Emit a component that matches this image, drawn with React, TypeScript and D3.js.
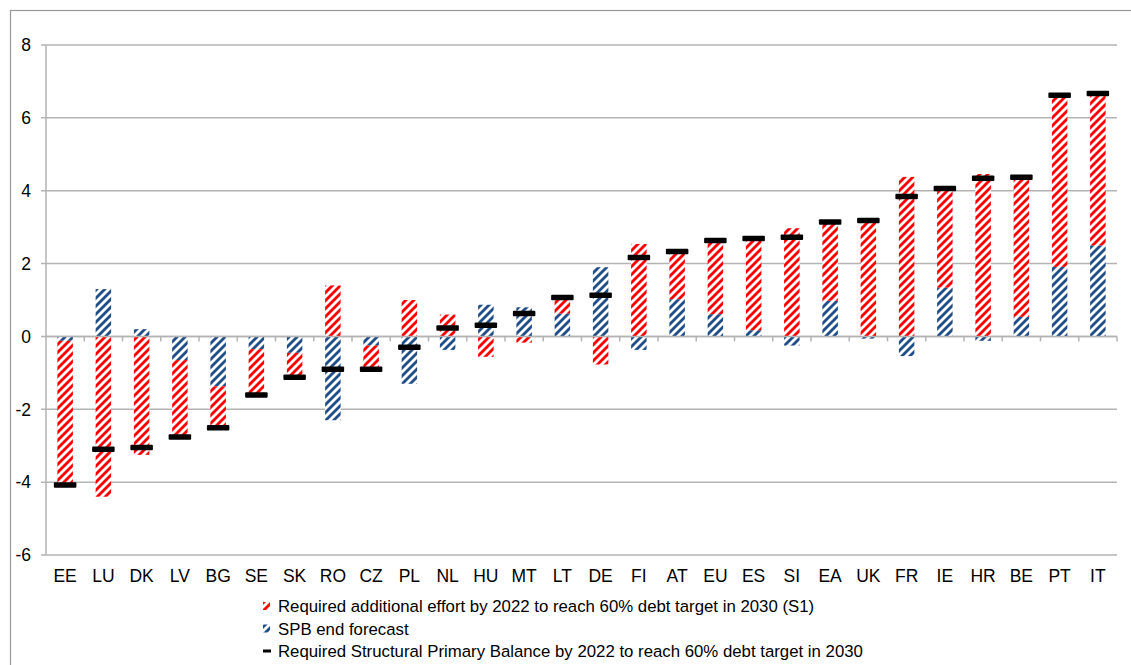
import React from "react";
import * as d3 from "d3";

const categories = ["EE","LU","DK","LV","BG","SE","SK","RO","CZ","PL","NL","HU","MT","LT","DE","FI","AT","EU","ES","SI","EA","UK","FR","IE","HR","BE","PT","IT"];
const spbEndForecast = [-0.12,1.3,0.2,-0.65,-1.37,-0.35,-0.45,-2.3,-0.25,-1.3,-0.37,0.87,0.8,0.63,1.9,-0.37,1.02,0.61,0.17,-0.25,0.98,-0.06,-0.54,1.34,-0.12,0.54,1.91,2.5];
const requiredEffort = [-3.96,-4.4,-3.25,-2.11,-1.14,-1.26,-0.67,1.4,-0.65,1.0,0.6,-0.56,-0.17,0.44,-0.77,2.54,1.31,2.02,2.52,2.97,2.16,3.24,4.38,2.72,4.46,3.83,4.71,4.17];
const requiredSPB = [-4.08,-3.1,-3.05,-2.76,-2.51,-1.61,-1.12,-0.9,-0.9,-0.3,0.23,0.31,0.63,1.07,1.13,2.17,2.33,2.63,2.69,2.72,3.14,3.18,3.84,4.06,4.34,4.37,6.62,6.67];
const yTicks = [-6,-4,-2,0,2,4,6,8];
const legendLabels = [
  "Required additional effort by 2022 to reach 60% debt target in 2030 (S1)",
  "SPB end forecast",
  "Required Structural Primary Balance by 2022 to reach 60% debt target in 2030",
];

const W = 1131, H = 665;
const FONT = "'Liberation Sans', Arial, sans-serif";
const RED = "#ff0000";
const BLUE = "#1f4e8a";
const GRID = "#b3b3b3";

export default function App() {
  const x = d3.scaleBand<string>().domain(categories).range([46, 1117]).padding(0);
  const y = d3.scaleLinear().domain([-6, 8]).range([555, 45]);

  const rows = categories.map((c, i) => ({ cat: c, spb: spbEndForecast[i], effort: requiredEffort[i] }));
  const stacked = d3.stack<any>().keys(["spb", "effort"]).offset(d3.stackOffsetDiverging)(rows);
  const fills: Record<string, string> = { spb: "url(#patBlue)", effort: "url(#patRed)" };

  const bw = x.bandwidth();
  const barW = 15.5;
  const markW = 22.5;
  const markH = 5.5;

  const stripe = "M0,0 L4,0 L0,4 Z M0,8 L8,0 L8,4 L4,8 Z";

  return (
    <svg width={W} height={H} style={{ position: "absolute", left: 0, top: 0, background: "#fff" }} fontFamily={FONT}>
      <defs>
        <pattern id="patRed" patternUnits="userSpaceOnUse" width={8} height={8}>
          <rect width={8} height={8} fill="#fff" />
          <path d={stripe} fill={RED} />
        </pattern>
        <pattern id="patBlue" patternUnits="userSpaceOnUse" width={8} height={8}>
          <rect width={8} height={8} fill="#fff" />
          <path d={stripe} fill={BLUE} />
        </pattern>
      </defs>
      <rect x={0} y={0} width={W} height={H} fill="#fff" />
      <rect x={10.5} y={10.5} width={W + 10} height={H + 10} fill="none" stroke="#999" strokeWidth={1.2} />

      {/* gridlines */}
      {yTicks.map((t) => (
        <g key={t}>
          <line x1={41} x2={1117} y1={y(t)} y2={y(t)} stroke={GRID} strokeWidth={1.5} />
          <text x={31} y={y(t)} dy="0.36em" textAnchor="end" fontSize={17.5} fill="#000">{t}</text>
        </g>
      ))}
      {/* y axis */}
      <line x1={46} x2={46} y1={y(8)} y2={y(-6)} stroke={GRID} strokeWidth={1.5} />

      {/* bars */}
      {stacked.map((s) => (
        <g key={s.key} fill={fills[s.key]}>
          {s.map((d: any, i: number) => {
            const y0 = y(d[0]), y1 = y(d[1]);
            const top = Math.min(y0, y1), h = Math.abs(y1 - y0);
            if (h < 0.01) return null;
            return <rect key={i} x={(x(categories[i]) as number) + bw / 2 - barW / 2} y={top} width={barW} height={h} />;
          })}
        </g>
      ))}

      {/* x axis at zero */}
      <line x1={46} x2={1117} y1={y(0)} y2={y(0)} stroke={GRID} strokeWidth={1.5} />
      {categories.map((c, i) => (
        <line key={"t" + c} x1={(x(c) as number) + bw} x2={(x(c) as number) + bw} y1={y(0)} y2={y(0) + 5} stroke={GRID} strokeWidth={1.5} />
      ))}

      {/* markers */}
      {requiredSPB.map((v, i) => (
        <rect key={"m" + i} x={(x(categories[i]) as number) + bw / 2 - markW / 2} y={y(v) - markH / 2} width={markW} height={markH} rx={1} fill="#000" />
      ))}

      {/* x labels */}
      {categories.map((c) => (
        <text key={"l" + c} x={(x(c) as number) + bw / 2} y={582} textAnchor="middle" fontSize={17.5} fill="#000">{c}</text>
      ))}

      {/* legend */}
      <g>
        <rect x={263} y={602} width={7} height={8} fill="url(#patRed)" />
        <text x={278} y={612} fontSize={16.8} fill="#000">{legendLabels[0]}</text>
        <rect x={263} y={624.5} width={7} height={8} fill="url(#patBlue)" />
        <text x={278} y={634.5} fontSize={16.8} fill="#000">{legendLabels[1]}</text>
        <rect x={263} y={649.5} width={8} height={3} fill="#000" />
        <text x={278} y={657} fontSize={16.8} fill="#000">{legendLabels[2]}</text>
      </g>
    </svg>
  );
}
